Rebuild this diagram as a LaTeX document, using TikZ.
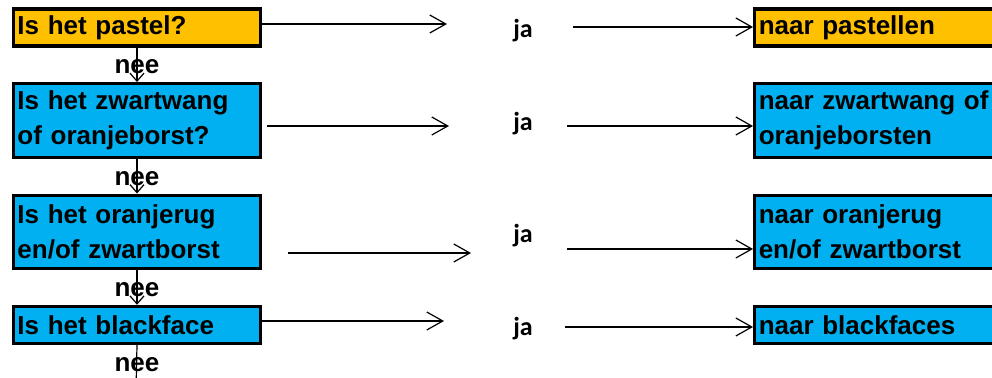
\documentclass[tikz,border=0pt]{standalone}
\usepackage{fontspec}
\setmainfont{Liberation Sans}
\newfontfamily\jaFont{Carlito}
\usepackage{xcolor}
\definecolor{pastelOrange}{HTML}{FFC000}
\definecolor{skyBlue}{HTML}{00B0F0}
\usetikzlibrary{arrows.meta,positioning,calc}
\tikzset{%
  questionBox/.style={%
    rectangle,
    draw=black,
    line width=1.7pt,
    fill=skyBlue,
    text width=119.5pt,
    inner xsep=2pt,
    inner ysep=1pt,
    minimum height=18.5pt,
    align=left,
    font=\fontsize{13}{17.5}\selectfont\bfseries
  },
  answerBox/.style={%
    questionBox
  },
  flowArrow/.style={%
    -{Straight Barb[length=8pt,width=9pt]},
    line width=0.6pt,
    color=black
  },
  neeArrow/.style={%
    -{Straight Barb[length=4pt,width=7pt]},
    line width=0.6pt,
    color=black
  },
  neeLabel/.style={%
    inner sep=0pt,
    font=\fontsize{13}{15}\selectfont\bfseries
  },
  jaLabel/.style={%
    inner sep=0pt,
    font=\fontsize{13}{15}\jaFont\bfseries
  }
}
\begin{document}
\begin{tikzpicture}[x=0.5pt,y=-0.5pt]
  \clip (0,0) rectangle (992,378);

  % vragen links
  \node[questionBox, fill=pastelOrange] (q1) at (137,27.5) {Is het pastel?};
  \node[questionBox, minimum height=36.75pt] (q2) at (137,120.5) {Is het zwartwang\\of oranjeborst?};
  \node[questionBox, minimum height=36.75pt] (q3) at (137,232) {Is het oranjerug\\en/of zwartborst};
  \node[questionBox] (q4) at (137,325) {Is het blackface};

  % antwoorden rechts
  \node[answerBox, fill=pastelOrange] (r1) at (878.25,27.5) {naar pastellen};
  \node[answerBox, minimum height=36.75pt] (r2) at (878.25,120.5) {naar zwartwang of\\oranjeborsten};
  \node[answerBox, minimum height=36.75pt] (r3) at (878.25,232) {naar oranjerug\\en/of zwartborst};
  \node[answerBox] (r4) at (878.25,325) {naar blackfaces};

  % ja
  \node[jaLabel] (ja1) at (523,31) {ja};
  \node[jaLabel] (ja2) at (523,124) {ja};
  \node[jaLabel] (ja3) at (523,236) {ja};
  \node[jaLabel] (ja4) at (523,328.5) {ja};

  % nee
  \node[neeLabel] (nee1) at (137,67) {nee};
  \node[neeLabel] (nee2) at (137,179) {nee};
  \node[neeLabel] (nee3) at (137,290) {nee};
  \node[neeLabel] (nee4) at (137,365) {nee};

  % losse eindpunten
  \coordinate (tip1) at (447,24);
  \coordinate (tip2) at (449,126);
  \coordinate (tip3) at (471,253);
  \coordinate (tip4) at (444,321);
  \coordinate (start2) at (267,126);
  \coordinate (start3) at (288,253);
  \coordinate (from1) at (573,27);
  \coordinate (from2) at (567,126);
  \coordinate (from3) at (567,249);
  \coordinate (from4) at (565,327);
  \coordinate (out4) at (136,392);

  \draw[flowArrow] (tip1 -| q1.east) -- (tip1);
  \draw[flowArrow] (start2) -- (tip2);
  \draw[flowArrow] (start3) -- (tip3);
  \draw[flowArrow] (tip4 -| q4.east) -- (tip4);

  \draw[flowArrow] (from1) -- (from1 -| r1.west);
  \draw[flowArrow] (from2) -- (from2 -| r2.west);
  \draw[flowArrow] (from3) -- (from3 -| r3.west);
  \draw[flowArrow] (from4) -- (from4 -| r4.west);

  \draw[neeArrow] (q1.south) -- (q2.north);
  \draw[neeArrow] (q2.south) -- (q3.north);
  \draw[neeArrow] (q3.south) -- (q4.north);
  \draw[neeArrow] (q4.south) -- (out4);
\end{tikzpicture}
\end{document}
